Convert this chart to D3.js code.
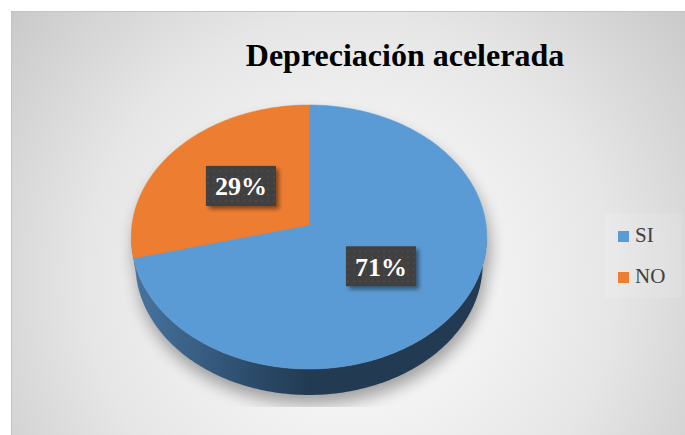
<!DOCTYPE html>
<html>
<head>
<meta charset="utf-8">
<script src="https://cdn.jsdelivr.net/npm/d3@7"></script>
<style>
  body { margin: 0; background: #fff; }
  svg { display: block; }
  text { font-family: "Liberation Serif", "Times New Roman", "DejaVu Serif", "Noto Serif", serif; }
</style>
</head>
<body>
<div id="chart-area"></div>
<script>
var categories = ["SI", "NO"];
var values = [71, 29];
var labels = ["71%", "29%"];
var colors = ["#5b9bd5", "#ed7d31"];
var sideColors = [["#4775a0", "#2b4a69", "#223b53"], ["#b05d24", "#8f4a1c", "#7a3f17"]];

var width = 685, height = 435;

var svg = d3.select("#chart-area").append("svg")
    .attr("width", width)
    .attr("height", height)
var defs = svg.append("defs");

// background gradient
var bg = defs.append("radialGradient")
    .attr("id", "bg")
    .attr("gradientUnits", "userSpaceOnUse")
    .attr("cx", 350).attr("cy", 280).attr("r", 440)
bg.append("stop").attr("offset", 0).attr("stop-color", "#f9f9f9")
bg.append("stop").attr("offset", 0.3).attr("stop-color", "#f3f3f3")
bg.append("stop").attr("offset", 0.6).attr("stop-color", "#e6e6e6")
bg.append("stop").attr("offset", 0.8).attr("stop-color", "#d7d7d7")
bg.append("stop").attr("offset", 1).attr("stop-color", "#c8c8c8")

svg.append("rect")
    .attr("x", 11.5).attr("y", 11.5)
    .attr("width", 690).attr("height", 440)
    .attr("fill", "url(#bg)")
    .attr("stroke", "#c4c4c4")

// simple perspective for the tilted pie
var cx = 309, cy = 225, a = 177,
    sinE = 0.7396, cosE = 0.673, q = 0.135, depthH = 0.231;

function proj(theta, k, h) {
    var X = k * Math.sin(theta), z = k * Math.cos(theta);
    var up = -h * cosE + z * sinE;
    var dz = 1 + (z * cosE + h * sinE) * q;
    return [cx + a * X / dz, cy - a * up / dz];
}

function rim(t0, t1, h) {
    var n = Math.max(2, Math.ceil(Math.abs(t1 - t0) / 0.02));
    return d3.range(n + 1).map((i) => proj(t0 + (t1 - t0) * i / n, 1, h));
}

var pie = d3.pie().sort(null).value((d) => d)
var arcs = pie(values);
var color = d3.scaleOrdinal().domain(categories).range(colors);

var line = d3.line();

// shadow under the pie
var shadowF = defs.append("filter").attr("id", "shadow")
    .attr("x", "-20%").attr("y", "-20%").attr("width", "140%").attr("height", "140%")
shadowF.append("feGaussianBlur").attr("stdDeviation", 8)
defs.append("clipPath").attr("id", "shclip")
    .append("rect").attr("x", 0).attr("y", 0).attr("width", width).attr("height", 407)

var outline = rim(0, 2 * Math.PI, 0);
var lower = rim(Math.PI * 0.53, Math.PI * 1.47, depthH);
svg.append("g").attr("clip-path", "url(#shclip)")
    .append("path")
    .attr("d", line(outline) + "Z")
    .attr("transform", "translate(3,10)")
    .attr("fill", "#000")
    .attr("opacity", 0.35)
    .attr("filter", "url(#shadow)")
svg.append("g").attr("clip-path", "url(#shclip)")
    .append("path")
    .attr("d", line(rim(Math.PI * 0.53, Math.PI * 1.47, 0).concat(lower.slice().reverse())) + "Z")
    .attr("transform", "translate(2,9)")
    .attr("fill", "#000")
    .attr("opacity", 0.35)
    .attr("filter", "url(#shadow)")

// side walls (front part only)
var visA = Math.acos(-cosE * q), visB = 2 * Math.PI - visA;
arcs.forEach((d, i) => {
    var g = defs.append("linearGradient")
        .attr("id", "side" + i)
        .attr("gradientUnits", "userSpaceOnUse")
        .attr("x1", cx - a).attr("x2", cx + a).attr("y1", 0).attr("y2", 0)
    g.append("stop").attr("offset", 0).attr("stop-color", sideColors[i][0])
    g.append("stop").attr("offset", 0.35).attr("stop-color", sideColors[i][1])
    g.append("stop").attr("offset", 0.5).attr("stop-color", sideColors[i][2])
    g.append("stop").attr("offset", 1).attr("stop-color", sideColors[i][2])

    var t0 = Math.max(d.startAngle, visA), t1 = Math.min(d.endAngle, visB);
    if (t1 <= t0) return;
    var top = rim(t0, t1, 0), bot = rim(t0, t1, depthH).reverse();
    svg.append("path")
        .attr("d", line(top.concat(bot)) + "Z")
        .attr("fill", "url(#side" + i + ")")
})

// top faces
arcs.forEach((d, i) => {
    var pts = [proj(0, 0, 0)].concat(rim(d.startAngle, d.endAngle, 0));
    svg.append("path")
        .attr("d", line(pts) + "Z")
        .attr("fill", color(categories[i]))
        .attr("stroke", color(categories[i]))
        .attr("stroke-width", 0.5)
})

// data labels
var dots = defs.append("pattern")
    .attr("id", "dots")
    .attr("patternUnits", "userSpaceOnUse")
    .attr("width", 6).attr("height", 6)
dots.append("rect").attr("width", 6).attr("height", 6).attr("fill", "#3f3f3f")
dots.append("circle").attr("cx", 3).attr("cy", 3).attr("r", 0.8).attr("fill", "#575757")

var lblShadow = defs.append("filter").attr("id", "lblsh")
    .attr("x", "-20%").attr("y", "-20%").attr("width", "150%").attr("height", "160%")
lblShadow.append("feDropShadow")
    .attr("dx", 3).attr("dy", 3).attr("stdDeviation", 2)
    .attr("flood-color", "#000").attr("flood-opacity", 0.45)

arcs.forEach((d, i) => {
    var p = proj((d.startAngle + d.endAngle) / 2, 0.5, 0);
    var lg = svg.append("g").attr("transform", "translate(" + p[0] + "," + p[1] + ")")
    lg.append("rect")
        .attr("x", -35).attr("y", -20)
        .attr("width", 70).attr("height", 40)
        .attr("fill", "url(#dots)")
        .attr("filter", "url(#lblsh)")
    lg.append("text")
        .attr("text-anchor", "middle")
        .attr("y", 9.5)
        .attr("fill", "#fff")
        .attr("font-weight", "bold")
        .attr("font-size", 26)
        .text(labels[i])
})

// title
svg.append("text")
    .attr("x", 405).attr("y", 66)
    .attr("text-anchor", "middle")
    .attr("fill", "#000")
    .attr("font-weight", "bold")
    .attr("font-size", 32)
    .text("Depreciación acelerada")

// legend
svg.append("rect")
    .attr("x", 605).attr("y", 213).attr("width", 76).attr("height", 85)
    .attr("fill", "#fff").attr("opacity", 0.12)
var legend = svg.selectAll(".legend")
    .data(categories)
    .enter().append("g")
    .attr("class", "legend")
    .attr("transform", (d, i) => "translate(618," + (231 + i * 41) + ")")
legend.append("rect")
    .attr("width", 11).attr("height", 11)
    .attr("fill", (d) => color(d))
legend.append("text")
    .attr("x", 17).attr("y", 11)
    .attr("fill", "#404040")
    .attr("font-size", 21)
    .text((d) => d)
</script>
</body>
</html>
